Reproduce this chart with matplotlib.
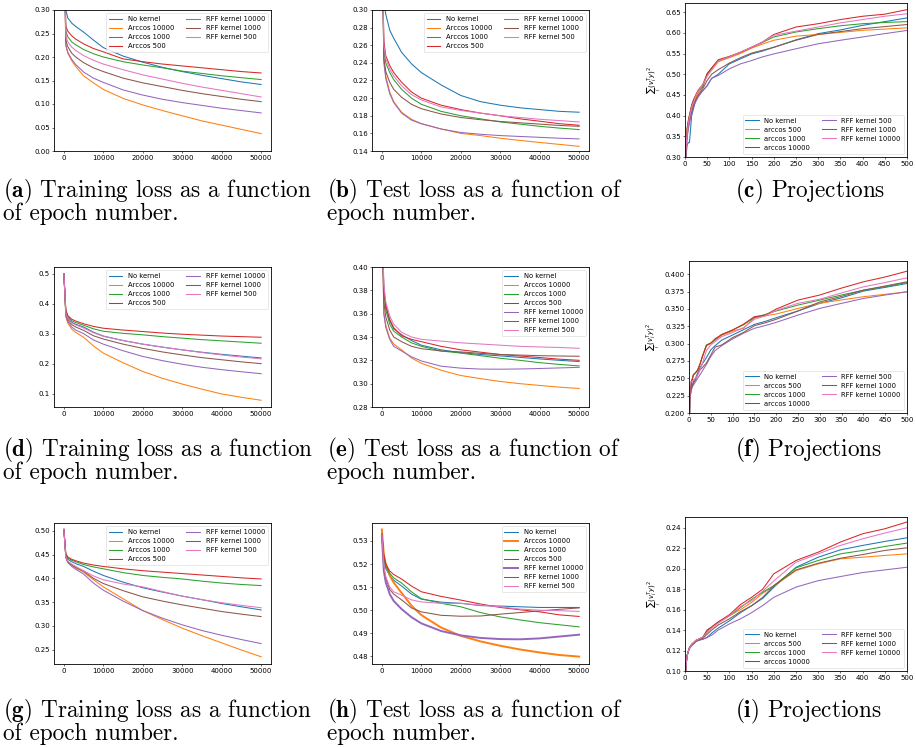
import matplotlib
matplotlib.use('Agg')
import matplotlib.pyplot as plt

W, H = 916, 747

# ---------------- data ----------------
epochs = [0, 500, 1000, 2000, 3000, 5000, 7500, 10000, 15000, 20000,
          25000, 30000, 35000, 40000, 45000, 50000]
proj_x = [0, 2, 5, 8, 10, 15, 20, 25, 30, 40, 50, 60, 75, 100, 125, 150,
          175, 200, 250, 300, 350, 400, 450, 500]

loss_labels = ['No kernel', 'Arccos 10000', 'Arccos 1000', 'Arccos 500',
               'RFF kernel 10000', 'RFF kernel 1000', 'RFF kernel 500']
proj_labels = ['No kernel', 'arccos 500', 'arccos 1000', 'arccos 10000',
               'RFF kernel 500', 'RFF kernel 1000', 'RFF kernel 10000']
colors = ['#1f77b4', '#ff7f0e', '#2ca02c', '#d62728',
          '#9467bd', '#8c564b', '#e377c2']

# (a) training loss, dataset 1 (rows follow loss_labels)
train1 = [
    [0.45, 0.300, 0.283, 0.272, 0.265, 0.253, 0.236, 0.220, 0.202, 0.189, 0.178, 0.169, 0.161, 0.154, 0.147, 0.1415],
    [0.45, 0.225, 0.208, 0.192, 0.180, 0.160, 0.145, 0.131, 0.112, 0.098, 0.086, 0.075, 0.064, 0.055, 0.046, 0.037],
    [0.45, 0.255, 0.243, 0.232, 0.226, 0.216, 0.207, 0.200, 0.190, 0.183, 0.177, 0.170, 0.165, 0.160, 0.156, 0.152],
    [0.45, 0.265, 0.255, 0.245, 0.238, 0.228, 0.218, 0.211, 0.196, 0.190, 0.185, 0.181, 0.177, 0.173, 0.169, 0.166],
    [0.45, 0.225, 0.210, 0.195, 0.184, 0.168, 0.155, 0.146, 0.130, 0.119, 0.110, 0.103, 0.097, 0.091, 0.086, 0.081],
    [0.45, 0.235, 0.222, 0.208, 0.200, 0.188, 0.177, 0.169, 0.155, 0.145, 0.137, 0.129, 0.122, 0.116, 0.110, 0.105],
    [0.45, 0.245, 0.232, 0.221, 0.214, 0.203, 0.193, 0.185, 0.173, 0.162, 0.153, 0.144, 0.136, 0.129, 0.122, 0.115],
]
# (b) test loss, dataset 1
test1 = [
    [0.40, 0.310, 0.295, 0.277, 0.268, 0.252, 0.239, 0.229, 0.215, 0.203, 0.196, 0.192, 0.189, 0.187, 0.185, 0.184],
    [0.40, 0.245, 0.225, 0.207, 0.196, 0.184, 0.176, 0.171, 0.165, 0.160, 0.1575, 0.1545, 0.152, 0.1497, 0.1475, 0.1453],
    [0.40, 0.255, 0.240, 0.229, 0.221, 0.210, 0.200, 0.193, 0.185, 0.180, 0.1765, 0.173, 0.1705, 0.168, 0.166, 0.1643],
    [0.40, 0.265, 0.248, 0.237, 0.229, 0.218, 0.207, 0.200, 0.192, 0.187, 0.183, 0.180, 0.1765, 0.1738, 0.171, 0.1692],
    [0.40, 0.240, 0.222, 0.205, 0.195, 0.183, 0.175, 0.171, 0.165, 0.161, 0.159, 0.1575, 0.1565, 0.1555, 0.1545, 0.1537],
    [0.40, 0.245, 0.230, 0.218, 0.210, 0.201, 0.193, 0.188, 0.182, 0.178, 0.1755, 0.1735, 0.172, 0.1705, 0.169, 0.168],
    [0.40, 0.260, 0.245, 0.233, 0.225, 0.214, 0.204, 0.198, 0.190, 0.186, 0.183, 0.180, 0.178, 0.176, 0.1745, 0.173],
]
# (d) training loss, dataset 2
train2 = [
    [0.50, 0.370, 0.352, 0.338, 0.331, 0.322, 0.305, 0.292, 0.277, 0.265, 0.255, 0.246, 0.238, 0.231, 0.225, 0.219],
    [0.50, 0.355, 0.335, 0.315, 0.304, 0.288, 0.259, 0.235, 0.203, 0.174, 0.151, 0.132, 0.115, 0.099, 0.088, 0.078],
    [0.50, 0.375, 0.357, 0.343, 0.337, 0.328, 0.316, 0.308, 0.301, 0.296, 0.290, 0.285, 0.280, 0.276, 0.272, 0.268],
    [0.50, 0.380, 0.360, 0.348, 0.342, 0.333, 0.324, 0.318, 0.312, 0.307, 0.302, 0.298, 0.295, 0.292, 0.290, 0.288],
    [0.50, 0.360, 0.340, 0.322, 0.312, 0.300, 0.279, 0.265, 0.243, 0.224, 0.210, 0.198, 0.188, 0.180, 0.173, 0.1666],
    [0.50, 0.365, 0.346, 0.330, 0.322, 0.311, 0.293, 0.282, 0.265, 0.251, 0.239, 0.229, 0.220, 0.213, 0.206, 0.200],
    [0.50, 0.368, 0.350, 0.336, 0.329, 0.319, 0.303, 0.291, 0.277, 0.265, 0.255, 0.246, 0.237, 0.229, 0.222, 0.216],
]
# (e) test loss, dataset 2
test2 = [
    [0.45, 0.380, 0.366, 0.354, 0.347, 0.342, 0.337, 0.333, 0.329, 0.3266, 0.325, 0.3238, 0.3225, 0.3212, 0.320, 0.319],
    [0.45, 0.360, 0.350, 0.339, 0.334, 0.329, 0.322, 0.3175, 0.3115, 0.307, 0.3043, 0.3019, 0.300, 0.2985, 0.297, 0.2959],
    [0.45, 0.378, 0.363, 0.351, 0.345, 0.340, 0.335, 0.332, 0.328, 0.3262, 0.324, 0.3218, 0.320, 0.318, 0.3165, 0.3152],
    [0.45, 0.380, 0.367, 0.355, 0.348, 0.341, 0.338, 0.336, 0.332, 0.329, 0.327, 0.325, 0.3237, 0.3224, 0.321, 0.320],
    [0.45, 0.360, 0.348, 0.338, 0.332, 0.328, 0.323, 0.3195, 0.315, 0.3133, 0.3125, 0.3124, 0.3126, 0.3130, 0.3135, 0.314],
    [0.45, 0.370, 0.357, 0.346, 0.340, 0.336, 0.332, 0.330, 0.328, 0.3272, 0.326, 0.325, 0.3245, 0.324, 0.3237, 0.3235],
    [0.45, 0.385, 0.370, 0.358, 0.351, 0.344, 0.340, 0.338, 0.3365, 0.335, 0.334, 0.333, 0.332, 0.3315, 0.331, 0.3303],
]
# (g) training loss, dataset 3
train3 = [
    [0.503, 0.448, 0.440, 0.435, 0.431, 0.425, 0.415, 0.406, 0.392, 0.380, 0.371, 0.3625, 0.355, 0.347, 0.340, 0.3333],
    [0.503, 0.444, 0.435, 0.428, 0.422, 0.413, 0.397, 0.382, 0.357, 0.332, 0.313, 0.295, 0.279, 0.264, 0.249, 0.2347],
    [0.503, 0.450, 0.443, 0.438, 0.435, 0.429, 0.424, 0.420, 0.412, 0.406, 0.402, 0.3986, 0.394, 0.390, 0.387, 0.3847],
    [0.503, 0.452, 0.445, 0.440, 0.437, 0.432, 0.428, 0.425, 0.420, 0.416, 0.413, 0.410, 0.407, 0.404, 0.401, 0.3986],
    [0.503, 0.443, 0.433, 0.425, 0.419, 0.409, 0.390, 0.375, 0.352, 0.332, 0.316, 0.302, 0.290, 0.280, 0.271, 0.2625],
    [0.503, 0.445, 0.435, 0.428, 0.423, 0.415, 0.400, 0.389, 0.374, 0.361, 0.352, 0.344, 0.337, 0.330, 0.3245, 0.3194],
    [0.503, 0.445, 0.436, 0.430, 0.425, 0.416, 0.405, 0.397, 0.388, 0.382, 0.372, 0.3625, 0.355, 0.3486, 0.343, 0.338],
]
# (h) test loss, dataset 3
test3 = [
    [0.533, 0.522, 0.518, 0.515, 0.513, 0.5105, 0.507, 0.5048, 0.5035, 0.503, 0.502, 0.5018, 0.5015, 0.5012, 0.5012, 0.5012],
    [0.535, 0.524, 0.520, 0.515, 0.512, 0.5075, 0.502, 0.4979, 0.4925, 0.4889, 0.4865, 0.4846, 0.483, 0.4817, 0.4806, 0.4799],
    [0.533, 0.523, 0.519, 0.516, 0.514, 0.5118, 0.508, 0.505, 0.503, 0.5015, 0.499, 0.4971, 0.4958, 0.4946, 0.4937, 0.4928],
    [0.533, 0.524, 0.520, 0.517, 0.5155, 0.5135, 0.5105, 0.508, 0.506, 0.5044, 0.5027, 0.5012, 0.5002, 0.4993, 0.498, 0.4973],
    [0.532, 0.517, 0.512, 0.507, 0.504, 0.5005, 0.497, 0.4943, 0.491, 0.4891, 0.488, 0.4875, 0.4874, 0.4878, 0.4886, 0.4894],
    [0.533, 0.518, 0.514, 0.509, 0.507, 0.5045, 0.501, 0.4993, 0.4978, 0.4974, 0.4975, 0.4983, 0.499, 0.4997, 0.5004, 0.501],
    [0.533, 0.519, 0.5145, 0.510, 0.508, 0.5065, 0.5045, 0.5036, 0.503, 0.503, 0.5022, 0.5015, 0.5005, 0.500, 0.4998, 0.4995],
]
# (c) projections, dataset 1 (rows follow proj_labels)
proj1 = [
    [0.25, 0.30, 0.33, 0.335, 0.335, 0.40, 0.42, 0.44, 0.45, 0.46, 0.472, 0.49, 0.50, 0.525, 0.537, 0.549, 0.556, 0.565, 0.583, 0.598, 0.607, 0.618, 0.627, 0.636],
    [0.25, 0.33, 0.37, 0.39, 0.40, 0.42, 0.435, 0.445, 0.455, 0.47, 0.50, 0.51, 0.53, 0.54, 0.55, 0.563, 0.573, 0.582, 0.592, 0.596, 0.601, 0.606, 0.609, 0.612],
    [0.25, 0.32, 0.37, 0.39, 0.40, 0.425, 0.44, 0.45, 0.46, 0.47, 0.50, 0.515, 0.533, 0.542, 0.553, 0.565, 0.577, 0.590, 0.602, 0.610, 0.617, 0.622, 0.625, 0.627],
    [0.25, 0.32, 0.37, 0.39, 0.40, 0.425, 0.44, 0.452, 0.462, 0.475, 0.502, 0.515, 0.535, 0.543, 0.553, 0.565, 0.578, 0.596, 0.614, 0.622, 0.632, 0.640, 0.645, 0.656],
    [0.25, 0.31, 0.35, 0.37, 0.38, 0.405, 0.425, 0.435, 0.445, 0.46, 0.473, 0.49, 0.497, 0.513, 0.525, 0.533, 0.542, 0.549, 0.5615, 0.5735, 0.582, 0.590, 0.598, 0.6057],
    [0.25, 0.31, 0.35, 0.38, 0.39, 0.41, 0.43, 0.44, 0.45, 0.465, 0.485, 0.50, 0.511, 0.527, 0.540, 0.551, 0.558, 0.565, 0.582, 0.596, 0.603, 0.610, 0.615, 0.620],
    [0.25, 0.32, 0.36, 0.385, 0.395, 0.42, 0.435, 0.45, 0.46, 0.475, 0.495, 0.51, 0.532, 0.542, 0.553, 0.565, 0.578, 0.594, 0.604, 0.614, 0.624, 0.632, 0.640, 0.646],
]
# (f) projections, dataset 2
proj2 = [
    [0.15, 0.22, 0.235, 0.24, 0.245, 0.25, 0.258, 0.265, 0.27, 0.28, 0.291, 0.297, 0.305, 0.3124, 0.320, 0.3277, 0.332, 0.3373, 0.347, 0.358, 0.366, 0.3756, 0.381, 0.3866],
    [0.15, 0.23, 0.245, 0.25, 0.255, 0.258, 0.262, 0.27, 0.28, 0.298, 0.301, 0.305, 0.312, 0.318, 0.322, 0.337, 0.340, 0.3426, 0.3507, 0.358, 0.363, 0.3675, 0.371, 0.3746],
    [0.15, 0.23, 0.245, 0.25, 0.255, 0.258, 0.262, 0.27, 0.28, 0.298, 0.3005, 0.306, 0.313, 0.3196, 0.327, 0.3374, 0.342, 0.347, 0.3555, 0.3627, 0.370, 0.377, 0.382, 0.388],
    [0.15, 0.23, 0.24, 0.25, 0.255, 0.258, 0.262, 0.27, 0.28, 0.297, 0.3005, 0.307, 0.313, 0.3196, 0.328, 0.3388, 0.341, 0.3498, 0.3627, 0.370, 0.380, 0.389, 0.396, 0.4043],
    [0.15, 0.22, 0.232, 0.238, 0.24, 0.245, 0.25, 0.255, 0.26, 0.27, 0.2813, 0.29, 0.297, 0.3067, 0.315, 0.322, 0.326, 0.3306, 0.3411, 0.3507, 0.358, 0.365, 0.370, 0.3746],
    [0.15, 0.22, 0.235, 0.24, 0.243, 0.248, 0.255, 0.262, 0.265, 0.272, 0.2837, 0.295, 0.298, 0.3086, 0.316, 0.3258, 0.330, 0.335, 0.347, 0.360, 0.368, 0.377, 0.383, 0.389],
    [0.15, 0.24, 0.245, 0.245, 0.248, 0.25, 0.255, 0.262, 0.27, 0.29, 0.298, 0.303, 0.31, 0.316, 0.323, 0.335, 0.340, 0.348, 0.358, 0.364, 0.373, 0.3818, 0.388, 0.3947],
]
# (i) projections, dataset 3
proj3 = [
    [0.08, 0.105, 0.115, 0.12, 0.122, 0.125, 0.127, 0.129, 0.13, 0.131, 0.133, 0.137, 0.142, 0.149, 0.157, 0.1638, 0.171, 0.1818, 0.2014, 0.2112, 0.2184, 0.2227, 0.2266, 0.2302],
    [0.08, 0.105, 0.115, 0.12, 0.122, 0.126, 0.128, 0.130, 0.131, 0.132, 0.138, 0.142, 0.147, 0.154, 0.160, 0.167, 0.176, 0.183, 0.1981, 0.2047, 0.2096, 0.2112, 0.2129, 0.2145],
    [0.08, 0.105, 0.116, 0.12, 0.123, 0.126, 0.128, 0.130, 0.131, 0.133, 0.140, 0.143, 0.148, 0.154, 0.162, 0.170, 0.177, 0.1834, 0.2008, 0.208, 0.2145, 0.2178, 0.2217, 0.225],
    [0.08, 0.105, 0.116, 0.12, 0.123, 0.126, 0.128, 0.130, 0.131, 0.133, 0.140, 0.143, 0.148, 0.155, 0.165, 0.172, 0.180, 0.195, 0.208, 0.2161, 0.226, 0.2341, 0.239, 0.2456],
    [0.08, 0.105, 0.115, 0.12, 0.122, 0.125, 0.127, 0.129, 0.13, 0.131, 0.1327, 0.135, 0.140, 0.146, 0.151, 0.157, 0.164, 0.172, 0.182, 0.1883, 0.1923, 0.1962, 0.1988, 0.2014],
    [0.08, 0.105, 0.115, 0.12, 0.122, 0.125, 0.127, 0.129, 0.13, 0.132, 0.136, 0.140, 0.145, 0.151, 0.158, 0.1638, 0.172, 0.1834, 0.1988, 0.2053, 0.2102, 0.2138, 0.2178, 0.2204],
    [0.08, 0.105, 0.115, 0.12, 0.122, 0.126, 0.128, 0.130, 0.131, 0.133, 0.138, 0.142, 0.147, 0.154, 0.163, 0.1687, 0.178, 0.188, 0.2063, 0.2145, 0.2227, 0.2292, 0.2348, 0.240],
]

captions = [
    r'$\mathbf{(a)}$ Training loss as a function' + '\nof epoch number.',
    r'$\mathbf{(b)}$ Test loss as a function of' + '\nepoch number.',
    r'$\mathbf{(c)}$ Projections',
    r'$\mathbf{(d)}$ Training loss as a function' + '\nof epoch number.',
    r'$\mathbf{(e)}$ Test loss as a function of' + '\nepoch number.',
    r'$\mathbf{(f)}$ Projections',
    r'$\mathbf{(g)}$ Training loss as a function' + '\nof epoch number.',
    r'$\mathbf{(h)}$ Test loss as a function of' + '\nepoch number.',
    r'$\mathbf{(i)}$ Projections',
]

# ---------------- layout (pixels) ----------------
boxes = {
    'a': (54, 271, 10, 151), 'b': (372, 589, 10, 151), 'c': (685, 907, 3, 157),
    'd': (54, 271, 267, 407), 'e': (372, 589, 267, 407), 'f': (689, 907, 261, 413),
    'g': (54, 271, 523, 664), 'h': (372, 589, 523, 664), 'i': (685, 907, 517, 671),
}

fig = plt.figure(figsize=(W / 100, H / 100), dpi=100)

TICK_FS = 5.0
LEG_FS = 4.9
LW = 0.75


def make_ax(key):
    l, r, t, b = boxes[key]
    ax = fig.add_axes([l / W, 1 - b / H, (r - l) / W, (b - t) / H])
    for s in ax.spines.values():
        s.set_linewidth(0.6)
    ax.tick_params(labelsize=TICK_FS, length=1.6, width=0.4, pad=1.2)
    return ax


def style_legend(leg):
    leg.get_frame().set_linewidth(0.4)


def loss_panel(key, data, ylim, yticks, ncol, lw_extra=None):
    ax = make_ax(key)
    for i, (lab, row) in enumerate(zip(loss_labels, data)):
        lw = LW
        if lw_extra and i in lw_extra:
            lw = lw_extra[i]
        ax.plot(epochs, row, color=colors[i], lw=lw, label=lab)
    ax.set_xlim(-2500, 52500)
    ax.set_ylim(*ylim)
    ax.set_xticks([0, 10000, 20000, 30000, 40000, 50000])
    ax.set_yticks(yticks)
    leg = ax.legend(ncol=ncol, fontsize=LEG_FS, loc='upper right',
                    handlelength=2.0, borderpad=0.4, labelspacing=0.45,
                    columnspacing=1.8, handletextpad=0.8, framealpha=0.8,
                    edgecolor='0.8', borderaxespad=0.5)
    style_legend(leg)
    return ax


def proj_panel(key, data, ylim, yticks):
    ax = make_ax(key)
    for i, (lab, row) in enumerate(zip(proj_labels, data)):
        ax.plot(proj_x, row, color=colors[i], lw=LW, label=lab)
    ax.set_xlim(0, 500)
    ax.set_ylim(*ylim)
    ax.set_xticks(list(range(0, 501, 50)))
    ax.set_yticks(yticks)
    ax.set_ylabel(r'$\sum_i (v_i^T y)^2$', fontsize=5.0, labelpad=2)
    leg = ax.legend(ncol=2, fontsize=LEG_FS, loc='lower right',
                    handlelength=2.0, borderpad=0.4, labelspacing=0.45,
                    columnspacing=1.8, handletextpad=0.8, framealpha=0.8,
                    edgecolor='0.8', borderaxespad=0.5)
    style_legend(leg)
    return ax


loss_panel('a', train1, (0.0, 0.30), [0.00, 0.05, 0.10, 0.15, 0.20, 0.25, 0.30], 2)
loss_panel('b', test1, (0.14, 0.30), [0.14, 0.16, 0.18, 0.20, 0.22, 0.24, 0.26, 0.28, 0.30], 2)
proj_panel('c', proj1, (0.30, 0.672), [0.30, 0.35, 0.40, 0.45, 0.50, 0.55, 0.60, 0.65])
loss_panel('d', train2, (0.0556, 0.522), [0.1, 0.2, 0.3, 0.4, 0.5], 2)
loss_panel('e', test2, (0.28, 0.40), [0.28, 0.30, 0.32, 0.34, 0.36, 0.38, 0.40], 1)
proj_panel('f', proj2, (0.20, 0.419), [0.200, 0.225, 0.250, 0.275, 0.300, 0.325, 0.350, 0.375, 0.400])
loss_panel('g', train3, (0.2195, 0.5165), [0.25, 0.30, 0.35, 0.40, 0.45, 0.50], 2)
loss_panel('h', test3, (0.4767, 0.5378), [0.48, 0.49, 0.50, 0.51, 0.52, 0.53], 1,
           lw_extra={1: 1.4, 4: 1.4})
proj_panel('i', proj3, (0.10, 0.2505), [0.10, 0.12, 0.14, 0.16, 0.18, 0.20, 0.22, 0.24])

# ---------------- captions ----------------
CAP_FS = 16.7
first_base = [197, 456, 717]   # baseline of the first caption line per row
second_base = [220, 479, 740]  # baseline of the second caption line per row
col_x = [3, 327, 735]
for idx, cap in enumerate(captions):
    r, c = divmod(idx, 3)
    yb = second_base[r] if '\n' in cap else first_base[r]
    fig.text(col_x[c] / W, 1 - yb / H, cap, fontsize=CAP_FS,
             family='cmr10', math_fontfamily='cm', va='baseline', ha='left',
             linespacing=0.82, multialignment='left')

fig.savefig('out.png', dpi=100, facecolor='white')
